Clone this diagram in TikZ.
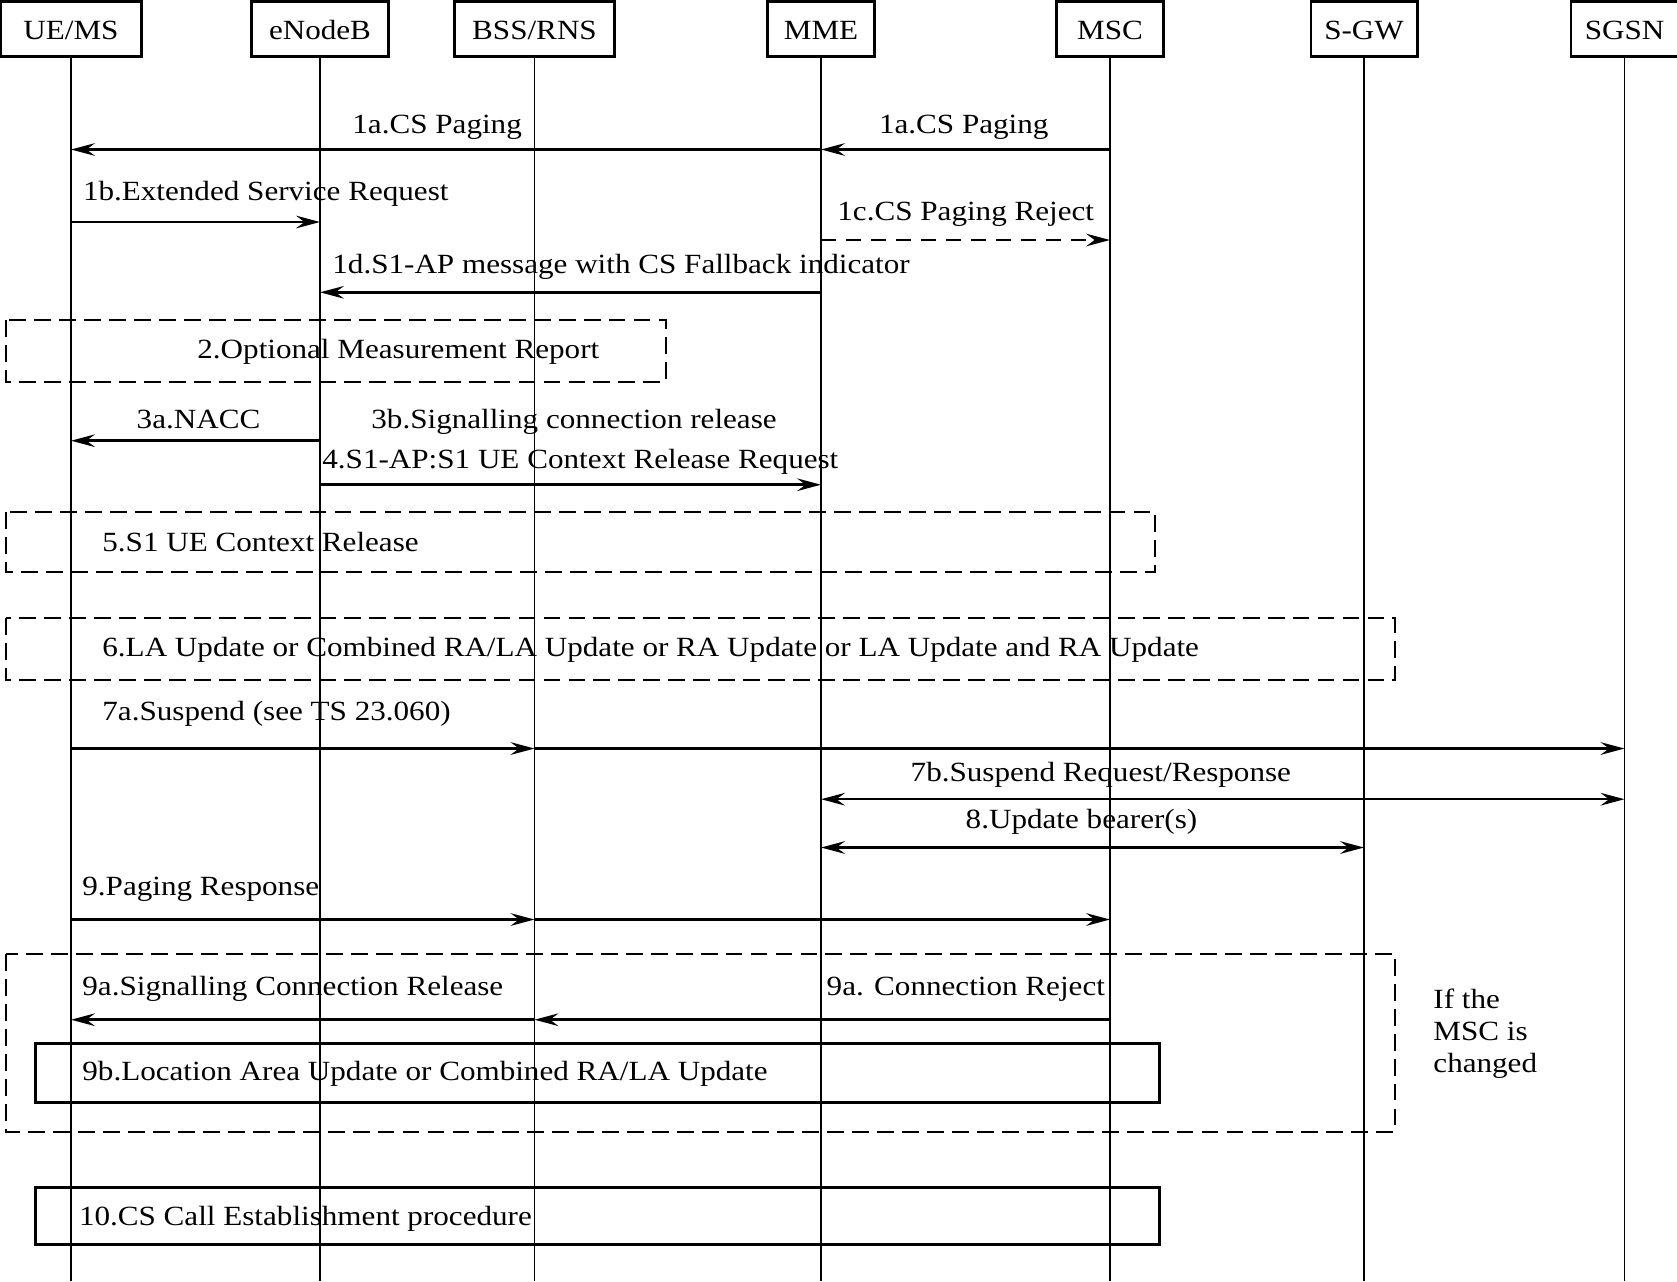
\documentclass[tikz,border=0pt]{standalone}
\usepackage{fontspec}
\setmainfont{Liberation Serif}[FakeStretch=1.12]
\usetikzlibrary{arrows.meta,positioning}

\begin{document}
\begin{tikzpicture}[
  x=0.01cm, y=-0.01cm,
  font=\fontsize{7.9pt}{9.1pt}\selectfont,
  head/.style={draw,line width=0.85pt,minimum height=0.55cm,inner sep=0pt,
               text height=6pt,text depth=0pt},
  life/.style={line width=0.5pt},
  msg/.style={line width=0.7pt,-{Stealth[length=6.8pt,width=3.6pt,inset=2.4pt]}},
  twoway/.style={line width=0.7pt,
               {Stealth[length=6.8pt,width=3.6pt,inset=2.4pt]}-{Stealth[length=6.8pt,width=3.6pt,inset=2.4pt]}},
  grp/.style={draw,line width=0.55pt,dash pattern=on 4.8pt off 2.3pt},
  proc/.style={draw,line width=0.9pt},
  lbl/.style={inner sep=0pt,anchor=base west}]

\useasboundingbox (0,0) rectangle (1677,1281);

% entities and lifelines
\node[head,minimum width=1.40cm] (ue)   at (71,29)     {UE/MS};
\node[head,minimum width=1.37cm] (enb)  at (320,29)    {eNodeB};
\node[head,minimum width=1.59cm] (bss)  at (534.5,29)  {BSS/RNS};
\node[head,minimum width=1.07cm] (mme)  at (821,29)    {MME};
\node[head,minimum width=1.06cm] (msc)  at (1110,29)   {MSC};
\node[head,minimum width=1.06cm] (sgw)  at (1364,29)   {S-GW};
\node[head,minimum width=1.07cm] (sgsn) at (1624.5,29) {SGSN};

\coordinate (bottom) at (0,1281);
\foreach \n in {ue,enb,bss,mme,msc,sgw,sgsn}
  \draw[life] (\n.south) -- (\n |- bottom);

% message rows
\coordinate (r1a) at (0,149.5);
\coordinate (r1b) at (0,222);
\coordinate (r1c) at (0,240);
\coordinate (r1d) at (0,292.3);
\coordinate (r3a) at (0,440.7);
\coordinate (r4)  at (0,484.7);
\coordinate (r7a) at (0,748.5);
\coordinate (r7b) at (0,799.2);
\coordinate (r8)  at (0,847.5);
\coordinate (r9)  at (0,919.5);
\coordinate (r9a) at (0,1019.7);

% group frames
\draw[grp] (6,320) rectangle (666,381.7);
\draw[grp] (6,511.7) rectangle (1155,571.6);
\draw[grp] (6,618.3) rectangle (1395,680);
\draw[grp] (6,954) rectangle (1395,1131.7);
\draw[proc] (35.7,1043.7) rectangle (1159.3,1102.7);
\draw[proc] (35.7,1187.3) rectangle (1159.3,1244.3);

% labels
\node[lbl] (l1a)  at (351.7,133.3) {1a.CS Paging};
\node[lbl] (l1aa) at (878.3,133.3) {1a.CS Paging};
\node[lbl] (l1b)  at (82.3,200)    {1b.Extended Service Request};
\node[lbl] (l1c)  at (836.7,220)   {1c.CS Paging Reject};
\node[lbl] (l1d)  at (331.7,273.3) {1d.S1-AP message with CS Fallback indicator};
\node[lbl] (l2)   at (196.7,358.3) {2.Optional Measurement Report};
\node[lbl] (l3a)  at (136,428.3)   {3a.NACC};
\node[lbl] (l3b)  at (370.7,428.3) {3b.Signalling connection release};
\node[lbl] (l4)   at (321.7,468.3) {4.S1-AP:S1 UE Context Release Request};
\node[lbl] (l5)   at (101.7,551.7) {5.S1 UE Context Release};
\node[lbl] (l6)   at (101.7,656.7) {6.LA Update or Combined RA/LA Update or RA Update or LA Update and RA Update};
\node[lbl] (l7a)  at (101.7,720)   {7a.Suspend (see TS 23.060)};
\node[lbl] (l7b)  at (910,781.7)   {7b.Suspend Request/Response};
\node[lbl] (l8)   at (965,828.3)   {8.Update bearer(s)};
\node[lbl] (l9)   at (81.7,895)    {9.Paging Response};
\node[lbl] (l9a)  at (81.7,995)    {9a.Signalling Connection Release};
\node[lbl] (l9aa) at (826,995)     {9a. Connection Reject};
\node[lbl] (l9b)  at (81.7,1080)   {9b.Location Area Update or Combined RA/LA Update};
\node[lbl] (l10)  at (78.3,1225)   {10.CS Call Establishment procedure};
\node[lbl,align=left,anchor=north west] (note) at (1432.7,988) {If the\\MSC is\\changed};

% messages
\draw[msg] (msc |- r1a) -- (mme |- r1a);
\draw[msg] (mme |- r1a) -- (ue |- r1a);
\draw[msg] (ue |- r1b) -- (enb |- r1b);
\draw[msg,dash pattern=on 4.3pt off 2.8pt] (mme |- r1c) -- (msc |- r1c);
\draw[msg] (mme |- r1d) -- (enb |- r1d);
\draw[msg] (enb |- r3a) -- (ue |- r3a);
\draw[msg] (enb |- r4) -- (mme |- r4);
\draw[msg] (ue |- r7a) -- (bss |- r7a);
\draw[msg] (bss |- r7a) -- (sgsn |- r7a);
\draw[twoway] (mme |- r7b) -- (sgsn |- r7b);
\draw[twoway] (mme |- r8) -- (sgw |- r8);
\draw[msg] (ue |- r9) -- (bss |- r9);
\draw[msg] (bss |- r9) -- (msc |- r9);
\draw[msg] (msc |- r9a) -- (bss |- r9a);
\draw[msg] (bss |- r9a) -- (ue |- r9a);
\end{tikzpicture}
\end{document}
